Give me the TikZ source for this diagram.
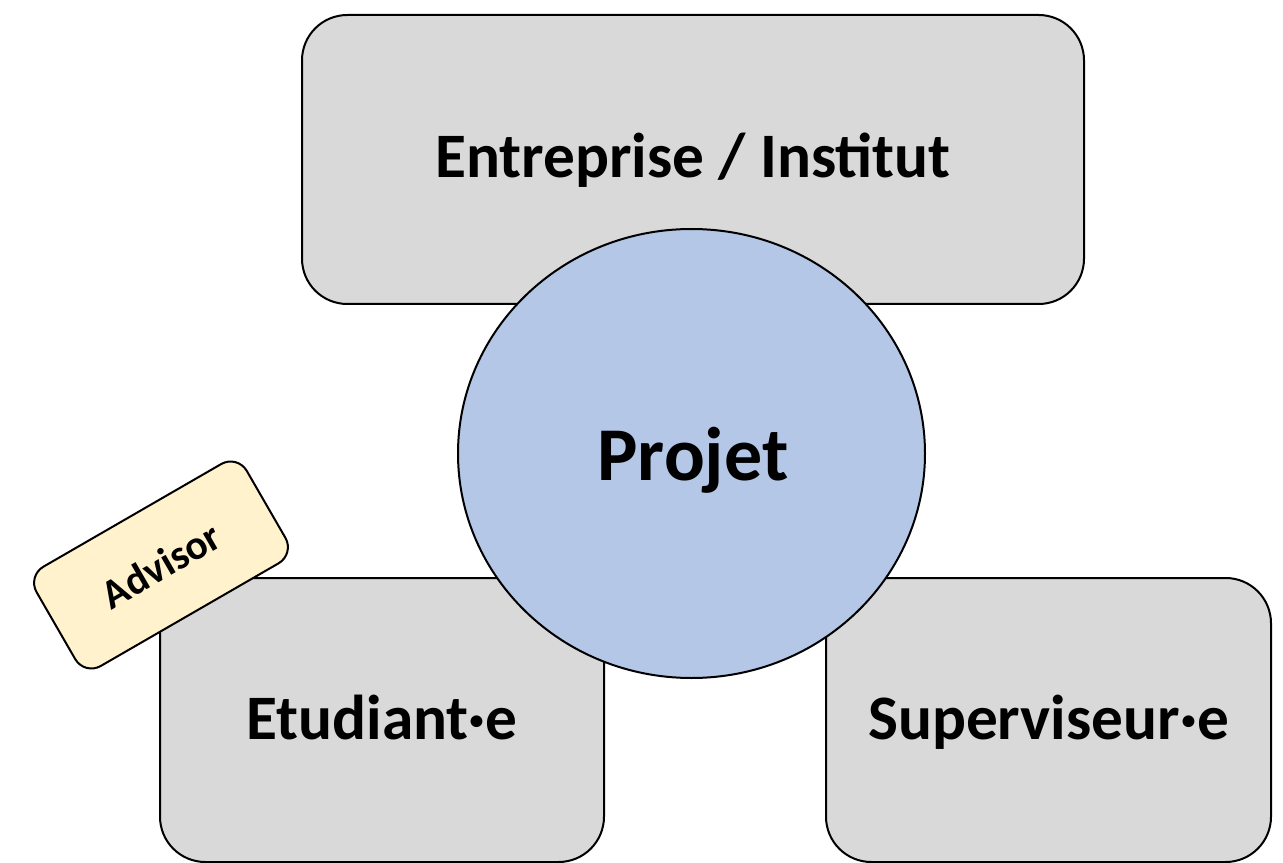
\documentclass[tikz,border=0pt]{standalone}
\usepackage{fontspec}
\setmainfont{Carlito}
\usetikzlibrary{shapes.geometric}
\definecolor{boxgray}{HTML}{D9D9D9}
\definecolor{projblue}{HTML}{B4C7E7}
\definecolor{tagyellow}{HTML}{FFF2CC}
\tikzset{
  party/.style={draw=black, line width=1.5pt, fill=boxgray, rounded corners=34pt,
    inner sep=0pt, font=\fontsize{47.5}{57}\selectfont\bfseries},
  projet/.style={draw=black, line width=1.5pt, fill=projblue, ellipse, inner sep=0pt,
    font=\fontsize{57}{68}\selectfont\bfseries},
  tag/.style={draw=black, line width=1.5pt, fill=tagyellow, rounded corners=14pt,
    inner sep=0pt, font=\fontsize{31}{37}\selectfont\bfseries}
}
\begin{document}
\begin{tikzpicture}[x=0.75pt,y=-0.75pt]
\useasboundingbox (0,0) rectangle (1283,863);
\node[party, minimum width=586.5pt, minimum height=216.75pt] (ent) at (693,159.5) {};
\node[party, minimum width=333pt, minimum height=213pt] (etu) at (382,720) {};
\node[party, minimum width=333.75pt, minimum height=213pt] (sup) at (1048.5,720) {};
\node[projet, minimum width=350.25pt, minimum height=336.75pt] (proj) at (691.5,453.5) {};
\node[font=\fontsize{47.5}{57}\selectfont\bfseries, anchor=base] (entT) at (693,178) {Entreprise / Institut};
\node[font=\fontsize{47.5}{57}\selectfont\bfseries, anchor=base] (etuT) at (382,739) {Etudiant·e};
\node[font=\fontsize{47.5}{57}\selectfont\bfseries, anchor=base] (supT) at (1048.5,739) {Superviseur·e};
\node[font=\fontsize{57}{68}\selectfont\bfseries, anchor=base] (projT) at (693,480) {Projet};
\node[tag, minimum width=182pt, minimum height=86pt, rotate=30] (adv) at (161,565) {Advisor};
\end{tikzpicture}
\end{document}
